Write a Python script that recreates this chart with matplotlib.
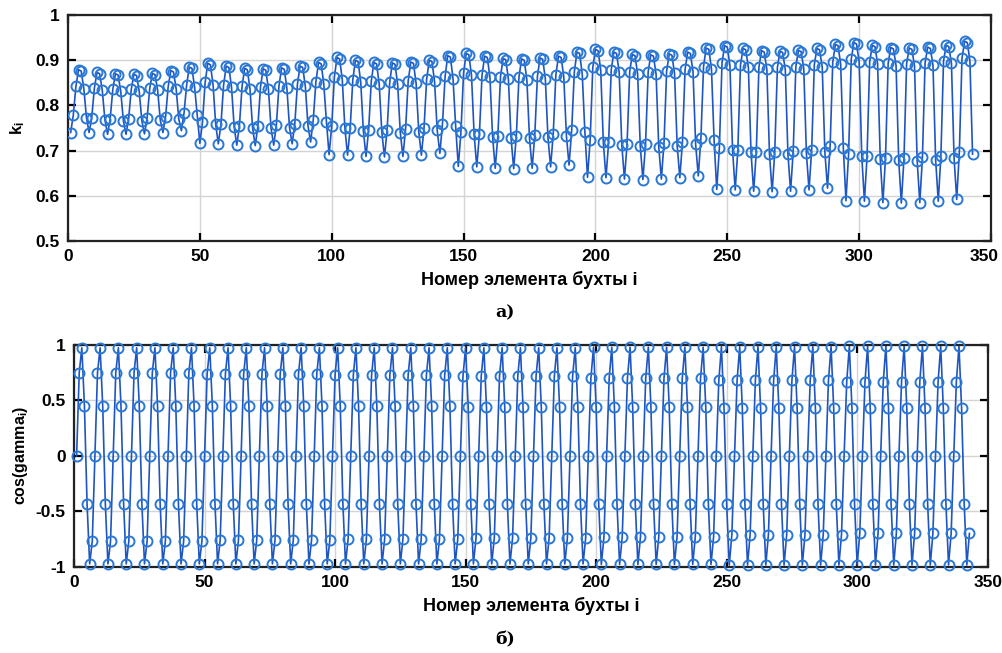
import matplotlib
matplotlib.use("Agg")
import matplotlib.pyplot as plt
import matplotlib.transforms as mtransforms
import numpy as np

# ---- data: k_i, element numbers 1..343 (7 blocks of 49) ----
k_part1 = [.740, .778, .842, .879, .876, .837, .773,
           .740, .773, .838, .873, .870, .833, .768,
           .736, .771, .836, .870, .867, .831, .766,
           .736, .771, .836, .869, .866, .831, .766,
           .737, .772, .838, .871, .868, .833, .767,
           .740, .775, .842, .877, .874, .837, .770,
           .744, .783, .846, .885, .882, .841, .778]
k_part2 = [.716, .763, .851, .893, .890, .846, .758,
           .715, .758, .845, .887, .884, .841, .753,
           .712, .755, .842, .882, .879, .837, .750,
           .711, .754, .841, .881, .878, .836, .749,
           .712, .756, .843, .883, .880, .838, .751,
           .715, .759, .847, .887, .884, .842, .755,
           .719, .768, .852, .895, .892, .847, .764]
k_part3 = [.691, .754, .862, .906, .903, .857, .749,
           .690, .749, .857, .900, .897, .852, .744,
           .687, .746, .853, .895, .892, .848, .741,
           .686, .745, .852, .894, .891, .847, .740,
           .687, .747, .854, .896, .893, .849, .742,
           .690, .750, .858, .900, .897, .853, .745,
           .694, .759, .864, .910, .907, .859, .754]
k_part4 = [.665, .741, .872, .915, .912, .867, .736,
           .664, .736, .867, .909, .906, .862, .731,
           .661, .733, .863, .904, .901, .858, .728,
           .660, .732, .862, .903, .900, .857, .727,
           .661, .734, .864, .905, .902, .859, .729,
           .664, .737, .868, .909, .906, .863, .732,
           .668, .746, .874, .918, .915, .869, .741]
k_part5 = [.641, .723, .884, .924, .921, .879, .718,
           .640, .718, .879, .918, .915, .874, .713,
           .637, .715, .875, .913, .910, .870, .710,
           .636, .714, .874, .912, .909, .869, .709,
           .637, .716, .876, .914, .911, .871, .711,
           .640, .719, .880, .918, .915, .875, .714,
           .644, .728, .886, .927, .924, .881, .723]
k_part6 = [.614, .706, .894, .932, .929, .889, .701,
           .613, .701, .889, .926, .923, .884, .696,
           .610, .698, .885, .921, .918, .880, .693,
           .609, .697, .884, .920, .917, .879, .692,
           .610, .699, .886, .922, .919, .881, .694,
           .613, .702, .890, .926, .923, .885, .697,
           .617, .711, .896, .935, .932, .891, .706]
k_part7 = [.589, .692, .902, .939, .936, .897, .687,
           .588, .687, .897, .933, .930, .892, .682,
           .585, .684, .893, .928, .925, .888, .679,
           .584, .683, .892, .927, .924, .887, .678,
           .585, .685, .894, .929, .926, .889, .680,
           .588, .688, .898, .933, .930, .893, .683,
           .592, .697, .904, .942, .939, .899, .692]

# ---- data: cos(gamma_i), one 7-point cycle per block (repeats 7 times in the block) ----
cos_cycle1 = [0.0, 0.75, 0.975, 0.45, -0.43, -0.975, -0.77]
cos_cycle2 = [0.0, 0.74, 0.975, 0.45, -0.43, -0.975, -0.76]
cos_cycle3 = [0.0, 0.73, 0.975, 0.45, -0.43, -0.975, -0.75]
cos_cycle4 = [0.0, 0.72, 0.975, 0.44, -0.43, -0.975, -0.74]
cos_cycle5 = [0.0, 0.70, 0.980, 0.44, -0.435, -0.980, -0.73]
cos_cycle6 = [0.0, 0.68, 0.985, 0.43, -0.435, -0.985, -0.71]
cos_cycle7 = [0.0, 0.67, 0.990, 0.43, -0.435, -0.985, -0.70]

x_ticks = [0, 50, 100, 150, 200, 250, 300, 350]
k_ticks = [0.5, 0.6, 0.7, 0.8, 0.9, 1.0]
k_ticklabels = ["0.5", "0.6", "0.7", "0.8", "0.9", "1"]
c_ticks = [-1, -0.5, 0, 0.5, 1]
c_ticklabels = ["-1", "-0.5", "0", "0.5", "1"]
xlabel_text = "Номер элемента бухты i"

k_vals = np.array(k_part1 + k_part2 + k_part3 + k_part4 + k_part5 + k_part6 + k_part7)
cos_vals = np.array(cos_cycle1 * 7 + cos_cycle2 * 7 + cos_cycle3 * 7 + cos_cycle4 * 7
                    + cos_cycle5 * 7 + cos_cycle6 * 7 + cos_cycle7 * 7)
idx = np.arange(1, len(k_vals) + 1)

plt.rcParams['font.family'] = ['Liberation Sans', 'DejaVu Sans']
plt.rcParams['mathtext.fontset'] = 'custom'
plt.rcParams['mathtext.rm'] = 'Liberation Sans'
plt.rcParams['mathtext.bf'] = 'Liberation Sans:bold'
plt.rcParams['mathtext.it'] = 'Liberation Sans:bold'

fig = plt.figure(figsize=(10.03, 6.53), dpi=100)
ax1 = fig.add_axes([68 / 1003, 1 - 241 / 653, (991 - 68) / 1003, (241 - 15) / 653])
ax2 = fig.add_axes([74 / 1003, 1 - 566.7 / 653, (987.7 - 74) / 1003, (566.7 - 345) / 653])

line_c = '#1f55c0'
mark_c = '#2a78d6'

def style(ax):
    ax.grid(True, color='#d4d4d4', lw=1.0)
    ax.set_axisbelow(True)
    for s in ax.spines.values():
        s.set_linewidth(1.6)
        s.set_color('#222222')
    ax.tick_params(direction='in', length=6, width=1.6, top=True, right=True,
                   labelsize=12.5, pad=6)
    for lab in ax.get_xticklabels() + ax.get_yticklabels():
        lab.set_fontweight('bold')

ax1.plot(idx, k_vals, '-', color=line_c, lw=1.2, zorder=2)
ax1.plot(idx, k_vals, 'o', mfc='none', mec=mark_c, ms=7.2, mew=1.4, zorder=3)
ax1.set_xlim(0, 350)
ax1.set_ylim(0.5, 1.0)
ax1.set_xticks(x_ticks)
ax1.set_yticks(k_ticks)
ax1.set_yticklabels(k_ticklabels)
style(ax1)
ax1.set_xlabel(xlabel_text, fontsize=13, fontweight='bold', labelpad=5)
ax1.set_ylabel(r'k$_{\mathbf{i}}$', fontsize=12, fontweight='bold', labelpad=6)
# keep the last top-panel tick label inside the figure
last_lab = ax1.get_xticklabels()[-1]
last_lab.set_transform(last_lab.get_transform()
                       + mtransforms.ScaledTranslation(-7 / 100, 0, fig.dpi_scale_trans))

ax2.plot(idx, cos_vals, '-', color=line_c, lw=1.2, zorder=2, clip_on=False)
ax2.plot(idx, cos_vals, 'o', mfc='none', mec=mark_c, ms=7.2, mew=1.4, zorder=3, clip_on=False)
ax2.set_xlim(0, 350)
ax2.set_ylim(-1, 1)
ax2.set_xticks(x_ticks)
ax2.set_yticks(c_ticks)
ax2.set_yticklabels(c_ticklabels)
style(ax2)
ax2.set_xlabel(xlabel_text, fontsize=13, fontweight='bold', labelpad=5)
ax2.set_ylabel(r'cos(gamma$_{\mathbf{i}}$)', fontsize=11.5, fontweight='bold', labelpad=4)

fig.text(505 / 1003, 1 - 313 / 653, 'а)', ha='center', va='center',
         fontsize=12.5, fontweight='bold', family=['DejaVu Serif', 'Liberation Serif'])
fig.text(505 / 1003, 1 - 640 / 653, 'б)', ha='center', va='center',
         fontsize=12.5, fontweight='bold', family=['DejaVu Serif', 'Liberation Serif'])

fig.savefig('out.png', dpi=100)
